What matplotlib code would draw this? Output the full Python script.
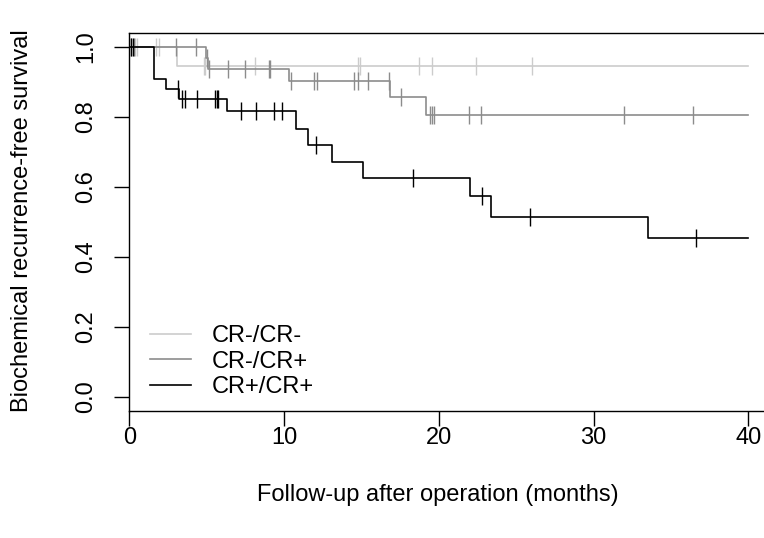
import numpy as np
import matplotlib
matplotlib.use("Agg")
from matplotlib import pyplot as plt

plt.rcParams['font.family'] = ['Liberation Sans', 'DejaVu Sans']

# CR-/CR- group
light_event_t = [3.1]
light_event_s = [0.946]
light_cens = [0.4, 0.5, 1.75, 1.95, 4.8, 4.9, 8.15, 14.75, 14.9, 18.75, 19.55, 22.4, 26.0]

# CR-/CR+ group
mid_event_t = [4.95, 5.1, 10.35, 16.85, 19.15]
mid_event_s = [0.968, 0.936, 0.903, 0.858, 0.805]
mid_cens = [0.1, 0.3, 3.05, 4.3, 5.05, 5.17, 6.4, 7.5, 9.0, 9.1, 10.45, 11.95, 12.1,
            14.5, 14.75, 15.4, 16.8, 17.55, 19.45, 19.55, 19.7, 21.95, 22.7, 32.0, 36.45]

# CR+/CR+ group
black_event_t = [1.6, 2.4, 3.2, 6.3, 10.75, 11.55, 13.1, 15.1, 22.0, 23.4, 33.5]
black_event_s = [0.908, 0.879, 0.851, 0.818, 0.767, 0.72, 0.672, 0.627, 0.575, 0.515, 0.453]
black_cens = [0.1, 0.25, 3.15, 3.4, 3.6, 4.4, 5.55, 5.65, 5.75, 7.2, 8.2, 9.35, 9.9,
              12.05, 18.35, 22.8, 25.9, 36.6]

labels = ["CR-/CR-", "CR-/CR+", "CR+/CR+"]
colors = ["#cccccc", "#8c8c8c", "#000000"]
t_max = 40

x_ticks = [0, 10, 20, 30, 40]
y_ticks = [0.0, 0.2, 0.4, 0.6, 0.8, 1.0]

fig = plt.figure(figsize=(7.64, 5.38), dpi=100)
ax = fig.add_axes([0.1692, 0.2361, 0.8426, 0.7026])

groups = [(light_event_t, light_event_s, light_cens),
          (mid_event_t, mid_event_s, mid_cens),
          (black_event_t, black_event_s, black_cens)]

for (et, es, cens), lab, col in zip(groups, labels, colors):
    t = np.concatenate([[0], et, [t_max]])
    s = np.concatenate([[1.0], es, [es[-1]]])
    ax.step(t, s, where='post', color=col, lw=1.2, label=lab)
    # censor ticks sit on the curve level at their time
    idx = np.searchsorted(t, cens, side='right') - 1
    ax.plot(cens, s[idx], ls='none', marker='|', ms=13.5, mew=1.0, color=col)

ax.set_xlim(0, t_max * 1.04)
ax.set_ylim(-0.04, 1.04)
ax.set_xticks(x_ticks)
ax.set_yticks(y_ticks)
ax.set_yticklabels(["%.1f" % v for v in y_ticks], rotation=90, va='center')
ax.tick_params(axis='both', direction='out', length=10.8, width=1.0, labelsize=17)
ax.tick_params(axis='x', pad=1)
ax.tick_params(axis='y', pad=12)
for sp in ax.spines.values():
    sp.set_linewidth(1.0)

leg = ax.legend(loc='upper left', bbox_to_anchor=(0.032, 0.227), frameon=False,
                fontsize=17, handlelength=1.75, handletextpad=0.85,
                labelspacing=0.15, borderpad=0, borderaxespad=0)

fig.text(437.5 / 764, 1 - 495 / 538, "Follow-up after operation (months)",
         ha='center', va='center', fontsize=17)
fig.text(22 / 764, 1 - 221 / 538, "Biochemical recurrence-free survival",
         ha='center', va='center', rotation=90, fontsize=17)

fig.savefig("out.png", dpi=100)
